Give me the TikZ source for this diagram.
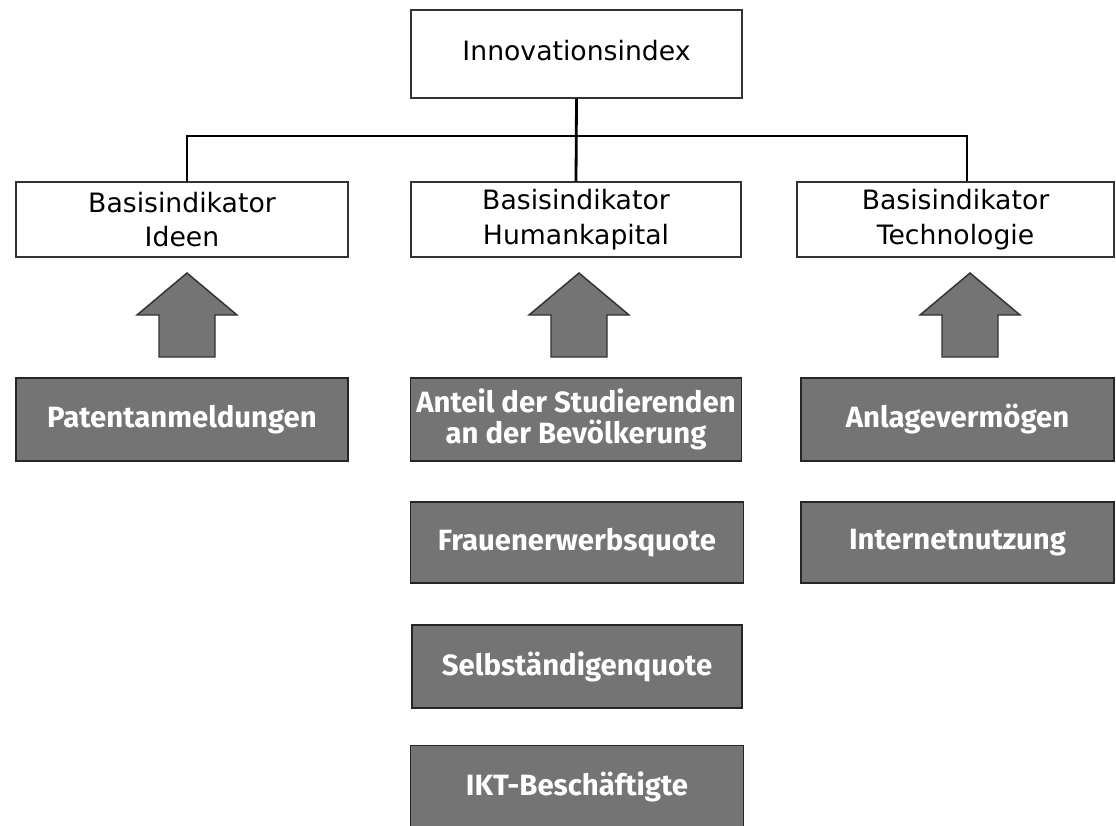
\documentclass[tikz,border=0pt]{standalone}
\usepackage{fontspec}
\setmainfont{DejaVu Sans}
\newfontfamily\boldfont{Fira Sans}
\definecolor{boxgray}{RGB}{116,116,116}
\begin{document}
\begin{tikzpicture}[x=0.75pt,y=-0.75pt,
  whitebox/.style={draw=black!80,line width=1.1pt,fill=white,inner sep=0pt,align=center,
    font=\fontsize{20}{26}\selectfont},
  graybox/.style={draw=black!85,line width=1.1pt,fill=boxgray,text=white,inner sep=0pt,align=center,
    font=\boldfont\bfseries\fontsize{22}{23}\selectfont},
  uparrow/.style={draw=black!80,line width=1.1pt,fill=boxgray},
  link/.style={line width=2.1pt}]
\useasboundingbox (0,0) rectangle (1116,825);
% top level
\node[whitebox,minimum width=248pt,minimum height=66pt] (idx) at (576.5,54) {\raisebox{5pt}{Innovationsindex}};
% Basisindikatoren
\node[whitebox,minimum width=249pt,minimum height=56pt] (ideen) at (182,219.5) {Basisindikator\\Ideen};
\node[whitebox,minimum width=247.5pt,minimum height=56pt] (human) at (576,219.5) {Basisindikator\\Humankapital};
\node[whitebox,minimum width=238pt,minimum height=56pt] (tech) at (955.5,219.5) {Basisindikator\\Technologie};
\coordinate (bar) at (576,136);
\draw[link] (idx.south) -- (human.north);
\draw[link] ([xshift=3.75pt]ideen.north) |- (bar) -| ([xshift=8.6pt]tech.north);
% arrows
\foreach \x in {187,579,970}
  \draw[uparrow] (\x,273) -- ++(50,42) -- ++(-22,0) -- ++(0,42) -- ++(-56,0) -- ++(0,-42) -- ++(-22,0) -- cycle;
% Einzelindikatoren
\node[graybox,minimum width=249pt,minimum height=62pt] (patent) at (182,419.5) {Patentanmeldungen};
\node[graybox,minimum width=248pt,minimum height=62pt] (anteil) at (576,419.5) {Anteil der Studierenden\\an der Bevölkerung};
\node[graybox,minimum width=235pt,minimum height=62pt] (anlage) at (957.5,419.5) {Anlagevermögen};
\node[graybox,minimum width=250pt,minimum height=61pt] (frauen) at (577,542.5) {Frauenerwerbsquote};
\node[graybox,minimum width=235pt,minimum height=61pt] (internet) at (957.5,542.5) {Internetnutzung};
\node[graybox,minimum width=247.5pt,minimum height=62pt] (selb) at (577,666.5) {Selbständigenquote};
\node[graybox,minimum width=250pt,minimum height=62pt] (ikt) at (577,787) {IKT-Beschäftigte};
\end{tikzpicture}
\end{document}
